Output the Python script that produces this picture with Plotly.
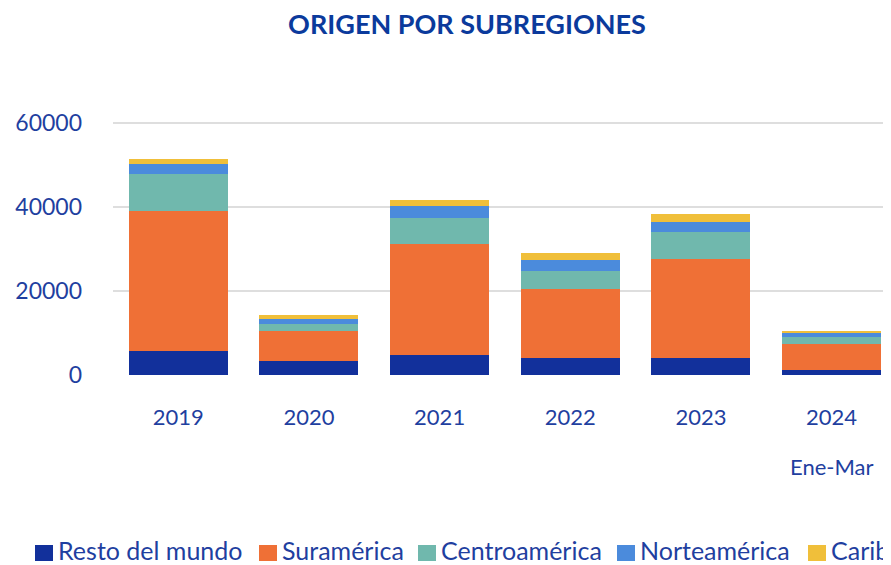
import plotly.graph_objects as go

years = ["2019", "2020", "2021", "2022", "2023", "2024"]
series_names = ["Resto del mundo", "Suramérica", "Centroamérica", "Norteamérica", "Caribe"]
resto = [5800, 3400, 4800, 4100, 4100, 1200]
suramerica = [33300, 7100, 26500, 16500, 23500, 6250]
centroamerica = [8900, 1600, 6200, 4200, 6400, 1700]
norteamerica = [2200, 1300, 2700, 2700, 2400, 800]
caribe = [1200, 900, 1600, 1600, 1900, 500]
colors = ["#12309b", "#ef7036", "#70b8ad", "#4b8bdc", "#f0bf3a"]
y_ticks = [0, 20000, 40000, 60000]

TXT = "#1f3fa0"
FONT = "Lato"

fig = go.Figure()
for name, vals, col in zip(series_names, [resto, suramerica, centroamerica, norteamerica, caribe], colors):
    fig.add_trace(go.Bar(x=years, y=vals, name=name, marker=dict(color=col, line=dict(width=0)),
                         showlegend=False))

# page body has an 8px margin; figure is sized so it ends at the window edge
W, H = 883, 557
ml, mr, mt, mb = 105, 0, 111, 189
ph = H - mt - mb
pw = W - ml - mr
y0 = H - mb  # pixel row of bottom of plot area (figure coords)


def px_x(p):
    return (p - ml) / pw


def px_y(p):
    return (y0 - p) / ph


fig.update_layout(
    width=W, height=H,
    margin=dict(l=ml, r=mr, t=mt, b=mb, autoexpand=False),
    barmode="stack", bargap=0.242,
    plot_bgcolor="white", paper_bgcolor="white",
    font=dict(family=FONT, color=TXT, size=22),
    title=dict(text="<b>ORIGEN POR SUBREGIONES</b>", x=459 / W, xanchor="center",
               y=1 - 17 / H, yanchor="middle", yref="container", xref="container",
               font=dict(family=FONT, size=27, color="#0b3a9c")),
    xaxis=dict(range=[-0.5, 5.455], showgrid=False, zeroline=False, showline=False,
               ticks="", tickfont=dict(size=22, color=TXT), ticklabelstandoff=26),
    yaxis=dict(range=[-200, 61000], tickvals=y_ticks, ticktext=[str(v) for v in y_ticks],
               showgrid=True, gridcolor="#dedede", gridwidth=1.5, zeroline=False,
               showline=False, ticks="", tickfont=dict(size=23, color=TXT), ticklabelstandoff=30),
)

# Sub label under 2024
fig.add_annotation(x=5, y=px_y(458), xref="x", yref="paper", text="Ene-Mar",
                   showarrow=False, xanchor="center", yanchor="middle",
                   font=dict(family=FONT, size=22, color=TXT))

# Legend drawn as a row of swatches + labels (runs past the right edge like the reference)
legend_x = [27, 251, 410, 609, 800]
for name, col, lx in zip(series_names, colors, legend_x):
    fig.add_shape(type="rect", xref="paper", yref="paper",
                  x0=px_x(lx), x1=px_x(lx + 18), y0=px_y(553), y1=px_y(537),
                  fillcolor=col, line=dict(width=0))
    fig.add_annotation(x=px_x(lx + 21), y=px_y(542), xref="paper", yref="paper",
                       text=name, showarrow=False,
                       xanchor="left", yanchor="middle", align="left",
                       font=dict(family=FONT, size=25, color=TXT))

fig.write_html("out.html")
